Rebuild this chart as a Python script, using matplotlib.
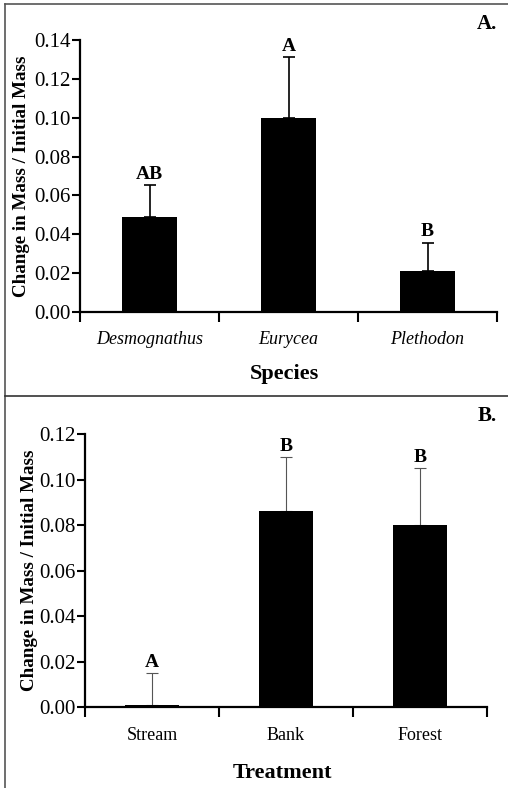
import matplotlib.pyplot as plt
from matplotlib.lines import Line2D

plt.rcParams['font.family'] = ['Liberation Serif', 'DejaVu Serif']

# Panel A: species
especies = ['Desmognathus', 'Eurycea', 'Plethodon']
masa_especies = [0.049, 0.100, 0.021]
error_especies = [0.0165, 0.031, 0.0147]
letras_especies = ['AB', 'A', 'B']

# Panel B: treatment
tratamientos = ['Stream', 'Bank', 'Forest']
masa_tratamientos = [0.001, 0.086, 0.080]
error_tratamientos = [0.014, 0.024, 0.025]
letras_tratamientos = ['A', 'B', 'B']

W, H = 508, 788
fig = plt.figure(figsize=(W / 100, H / 100), dpi=100)


def panel(rect, nombres, valores, errores, letras, ymax, paso, xlabel,
          italica, etiqueta, lw_err, color_err, ylab_x, xlab_y, letra_y):
    ax = fig.add_axes(rect)
    pos = [0.5, 1.5, 2.5]
    ax.bar(pos, valores, width=0.4, color='black', zorder=2)
    ax.errorbar(pos, valores, yerr=[[0] * 3, errores], fmt='none',
                ecolor=color_err, elinewidth=lw_err, capsize=4,
                capthick=lw_err, zorder=1)
    for x, v, e, l in zip(pos, valores, errores, letras):
        ax.text(x, v + e + ymax * 0.008, l, ha='center', va='bottom',
                fontsize=14, fontweight='bold')
    ax.set_xlim(0, 3)
    ax.set_ylim(0, ymax)
    ticks = [round(i * paso, 2) for i in range(int(round(ymax / paso)) + 1)]
    ax.set_yticks(ticks)
    ax.set_yticklabels(['%.2f' % t for t in ticks], fontsize=15)
    ax.set_xticks([0, 1, 2, 3])
    ax.set_xticklabels([])
    ax.set_xticks(pos, minor=True)
    ax.set_xticklabels(nombres, minor=True, fontsize=13,
                       style='italic' if italica else 'normal')
    ax.tick_params(axis='x', which='minor', length=0, pad=14)
    ax.tick_params(axis='x', which='major', direction='out', length=7, width=1.5)
    ax.tick_params(axis='y', direction='out', length=6, width=1.5, pad=1)
    for s in ['top', 'right']:
        ax.spines[s].set_visible(False)
    for s in ['left', 'bottom']:
        ax.spines[s].set_linewidth(1.6)
    ax.set_ylabel('Change in Mass / Initial Mass', fontsize=13.7,
                  fontweight='bold')
    ax.yaxis.set_label_coords(ylab_x, 0.5)
    ax.set_xlabel(xlabel, fontsize=16, fontweight='bold')
    ax.xaxis.set_label_coords(0.49, xlab_y)
    fig.text(0.978, letra_y, etiqueta, ha='right', va='center',
             fontsize=15, fontweight='bold')
    return ax


panel([80 / W, 1 - 312 / H, 417 / W, 272 / H], especies, masa_especies,
      error_especies, letras_especies, 0.14, 0.02, 'Species', True, 'A.',
      1.2, 'black', -0.12, -0.193, 1 - 24 / H)

panel([85 / W, 1 - 707.3 / H, 402 / W, 273.3 / H], tratamientos,
      masa_tratamientos, error_tratamientos, letras_tratamientos, 0.12, 0.02,
      'Treatment', False, 'B.', 0.8, '#555555', -0.117, -0.205, 1 - 416 / H)

# marco de la figura
fig.add_artist(Line2D([4.5 / W, 4.5 / W], [0, 1 - 3.5 / H], color='#555555',
                      lw=1.2))
fig.add_artist(Line2D([4.5 / W, 1], [1 - 3.5 / H, 1 - 3.5 / H],
                      color='#555555', lw=1.2))
fig.add_artist(Line2D([4.5 / W, 1], [1 - 395.5 / H, 1 - 395.5 / H],
                      color='#333333', lw=1.2))

fig.savefig('out.png', dpi=100)
